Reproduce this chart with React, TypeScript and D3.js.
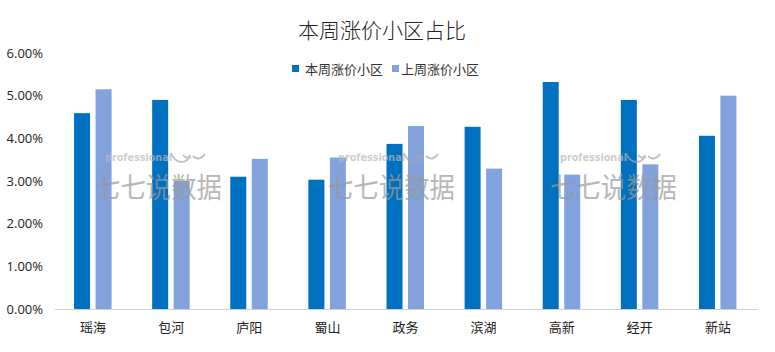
import React from "react";
import * as d3 from "d3";

const categories = ["瑶海", "包河", "庐阳", "蜀山", "政务", "滨湖", "高新", "经开", "新站"];
const thisWeek = [4.59, 4.9, 3.1, 3.03, 3.87, 4.27, 5.32, 4.9, 4.06];
const lastWeek = [5.15, 3.0, 3.52, 3.55, 4.29, 3.29, 3.15, 3.39, 5.0];
const seriesNames = ["本周涨价小区", "上周涨价小区"];
const yTicks = [0, 1, 2, 3, 4, 5, 6];
const watermarkX = [95, 328, 550];

const W = 775;
const H = 352;
const colors = ["#0070C0", "#82A2DC"];
const font = "'Noto Sans CJK SC', 'Noto Sans', sans-serif";

export default function App() {
  const x = d3.scaleBand<string>().domain(categories).range([55, 758]);
  const y = d3.scaleLinear().domain([0, 6]).range([309, 53]);
  const bw = 16;

  return (
    <svg width={W} height={H} style={{ position: "absolute", left: 0, top: 0, background: "#fff" }}>
      <rect width={W} height={H} fill="#fff" />
      <text x={382} y={38} textAnchor="middle" fontSize={21} fontWeight={300} fontFamily={font} fill="#222">
        本周涨价小区占比
      </text>
      {/* legend */}
      <rect x={292} y={65} width={7} height={7} fill={colors[0]} />
      <text x={305} y={73.5} fontSize={13} fontFamily={font} fill="#333">{seriesNames[0]}</text>
      <rect x={392} y={65} width={7} height={7} fill={colors[1]} />
      <text x={401} y={73.5} fontSize={13} fontFamily={font} fill="#333">{seriesNames[1]}</text>
      {/* y ticks */}
      {yTicks.map((t) => (
        <text key={t} x={43} y={y(t) + 4.5} textAnchor="end" fontSize={13} fontFamily="'Open Sans', sans-serif" fill="#222">
          {d3.format(".2f")(t) + "%"}
        </text>
      ))}
      {/* bars */}
      {categories.map((c, i) => {
        const cx = (x(c) as number) + x.bandwidth() / 2;
        return (
          <g key={c}>
            <rect x={cx - 20} y={y(thisWeek[i])} width={bw} height={y(0) - y(thisWeek[i])} fill={colors[0]} />
            <rect x={cx + 1.5} y={y(lastWeek[i])} width={bw} height={y(0) - y(lastWeek[i])} fill={colors[1]} />
            <text x={cx - 1} y={332} textAnchor="middle" fontSize={13} fontFamily={font} fill="#222">{c}</text>
          </g>
        );
      })}
      <line x1={55} x2={758} y1={309.5} y2={309.5} stroke="#d0d0d0" strokeWidth={1} />
      {/* watermarks */}
      {watermarkX.map((wx, i) => (
        <g key={i} opacity={0.7}>
          <text x={wx + 10} y={161} fontSize={10.5} fontWeight="bold" fontFamily="'DejaVu Sans', sans-serif" fill="#b8b8b8" textLength={67} lengthAdjust="spacingAndGlyphs">
            professional
          </text>
          <path d={`M ${wx + 76} ${153} q 3 8 10 9 q 7 0 9 -7 M ${wx + 88} ${155} q 3 4 8 2 M ${wx + 98} ${156} q 6 6 12 -2`} stroke="#a8a8a8" strokeWidth={2} fill="none" />
          <text x={wx} y={198} fontSize={28} fontFamily={font} fill="#999" textLength={127} lengthAdjust="spacingAndGlyphs">
            七七说数据
          </text>
        </g>
      ))}
    </svg>
  );
}
